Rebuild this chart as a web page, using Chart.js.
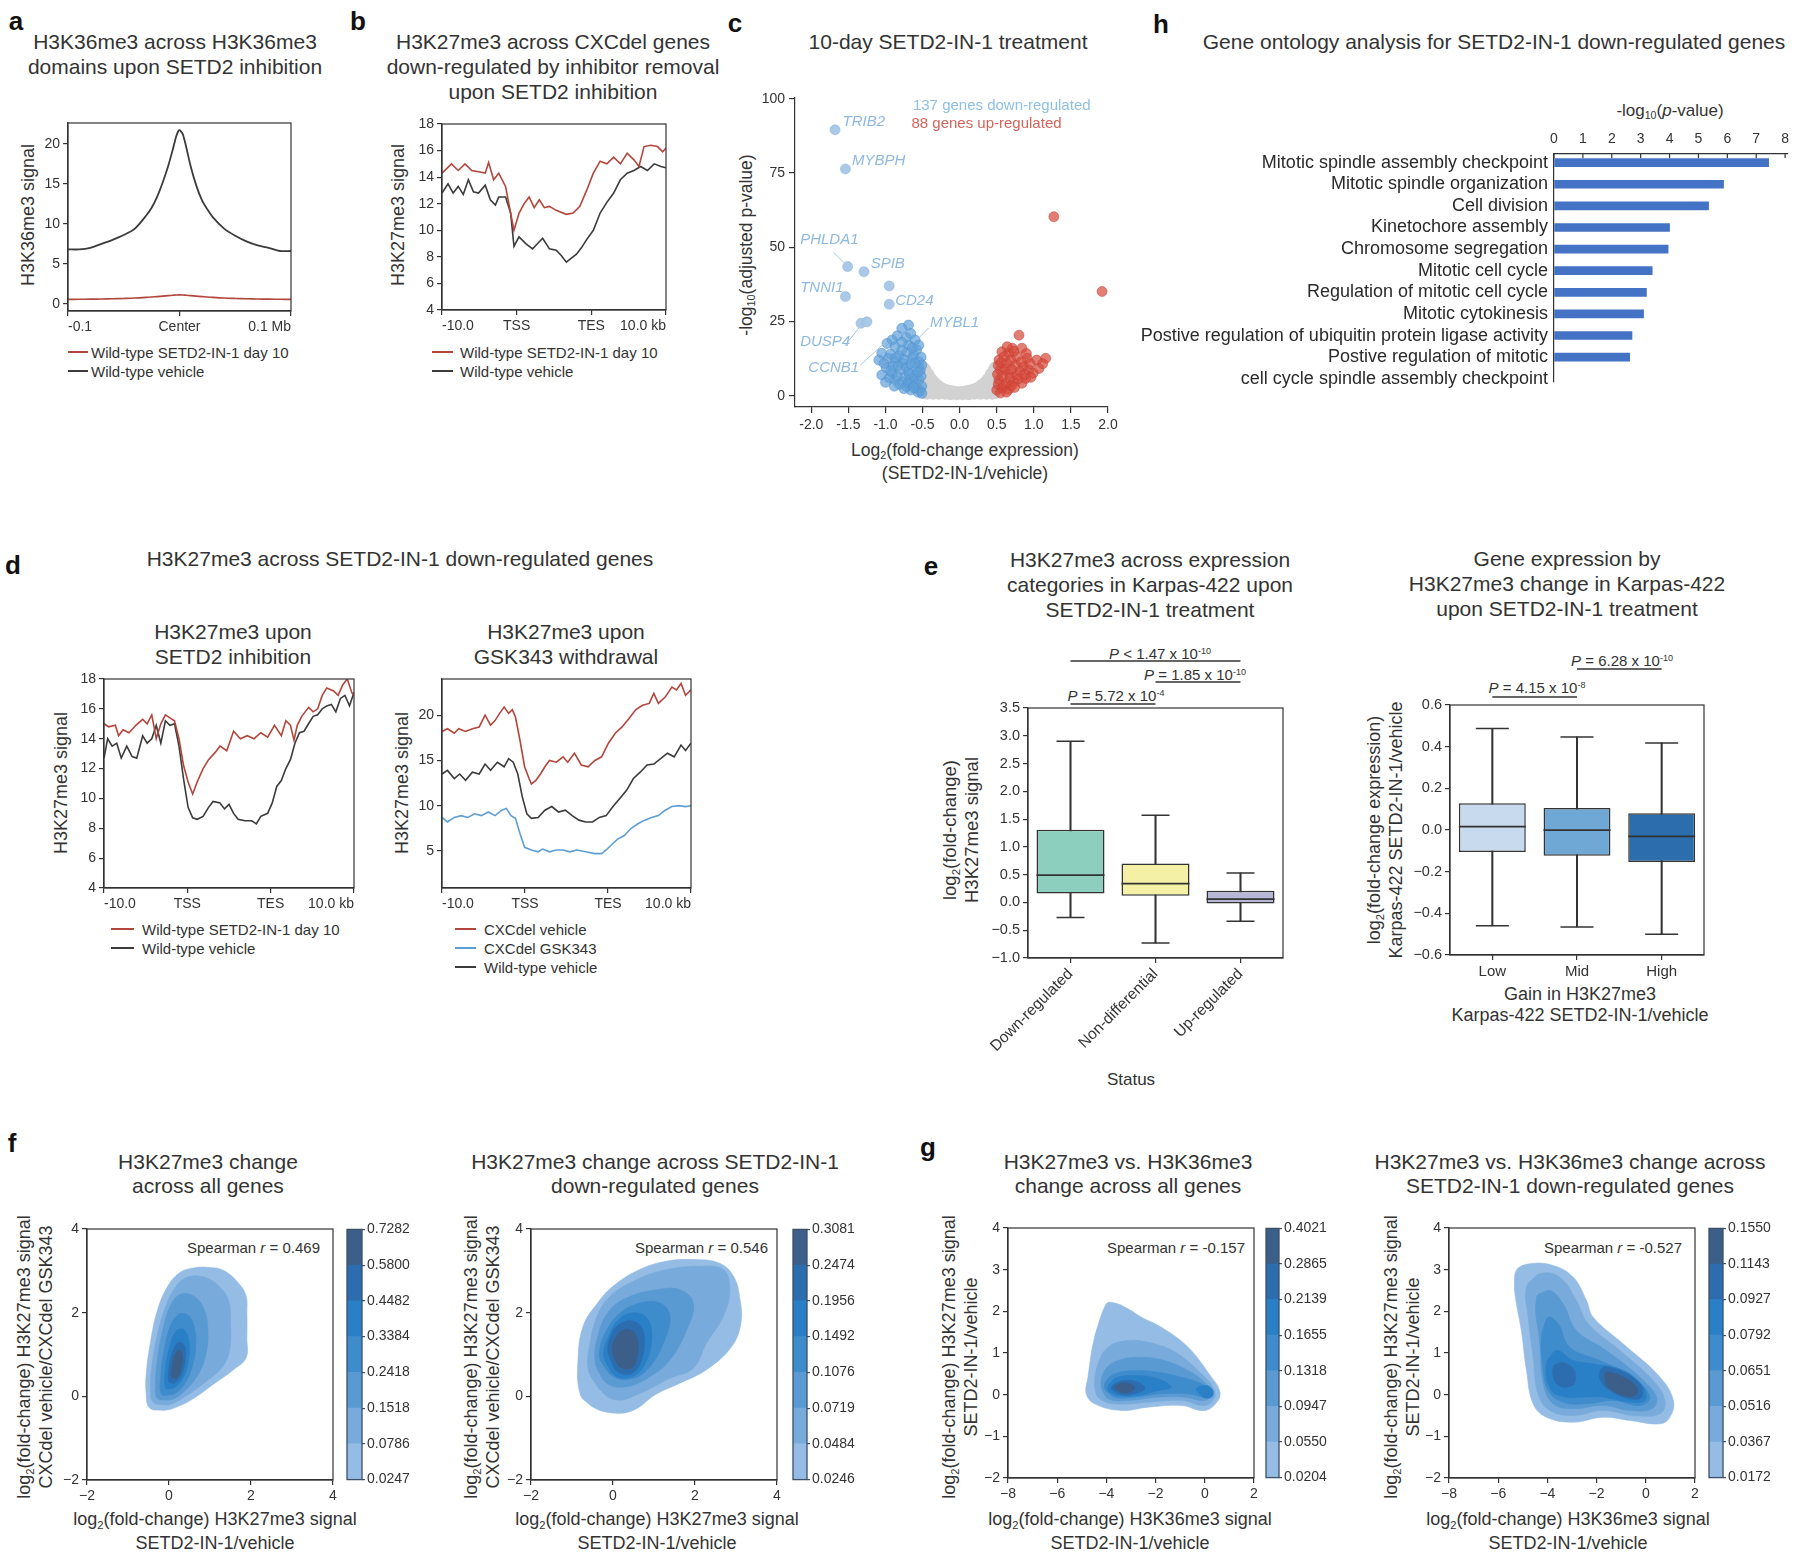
<!DOCTYPE html>
<html><head><meta charset="utf-8"><title>SETD2-IN-1 figure</title>
<script src="https://cdn.jsdelivr.net/npm/chart.js@4.4.1/dist/chart.umd.min.js"></script>
<style>
html,body{margin:0;padding:0;background:#fff}
body{position:relative;width:1800px;height:1559px;overflow:hidden;font-family:"Liberation Sans",Arial,Helvetica,sans-serif;color:#333}
.t{position:absolute;white-space:nowrap;line-height:1;text-align:center}
canvas{position:absolute}
sub{font-size:0.62em;vertical-align:0;position:relative;top:0.32em}
sup{font-size:0.6em;vertical-align:0;position:relative;top:-0.6em}
.lg{position:absolute;height:0;border-top:2px solid}
</style></head><body>
<script>
// ---------------- DATA ----------------
// panel a
const aX = [-100,-90,-80,-70,-60,-50,-40,-30,-25,-20,-15,-10,-6,-3,-1,0,1,3,6,10,15,20,25,30,40,50,60,70,80,90,100];
const aVehicle = [6.8,6.8,7.0,7.5,8.0,8.6,9.4,11.0,12.0,13.4,15.2,17.3,19.3,20.9,21.6,21.7,21.6,21.2,19.6,17.2,14.8,13.0,11.8,10.8,9.4,8.5,7.8,7.3,7.0,6.6,6.6];
const aSetd2 = [0.55,0.56,0.58,0.6,0.63,0.67,0.72,0.8,0.85,0.9,0.96,1.02,1.07,1.1,1.12,1.12,1.12,1.1,1.07,1.02,0.96,0.9,0.85,0.8,0.72,0.67,0.63,0.6,0.58,0.56,0.55];
const aTicks = [-100,0,100];
const aTickLabels = ['-0.1','Center','0.1 Mb'];
// metagene ticks (b, d)
const geneTicks = [0,1,2,3];
const geneTickLabels = ['-10.0','TSS','TES','10.0 kb'];
// panel b
const bSetd2 = [[0,14.3],[0.127,15.0],[0.217,14.5],[0.308,15.0],[0.398,14.5],[0.489,14.4],[0.579,14.3],[0.624,15.1],[0.692,13.8],[0.76,14.3],[0.851,13.3],[0.919,11.3],[0.964,10.0],[1.032,11.3],[1.1,12.0],[1.167,12.5],[1.235,11.7],[1.303,12.3],[1.371,11.7],[1.439,11.8],[1.529,11.5],[1.665,11.2],[1.756,11.3],[1.846,11.8],[1.937,13.0],[2.027,14.3],[2.118,15.2],[2.208,15.0],[2.299,15.5],[2.389,15.0],[2.48,15.8],[2.57,15.3],[2.638,14.8],[2.706,16.3],[2.796,16.4],[2.887,16.3],[2.955,15.9],[3.0,16.2]];
const bVehicle = [[0,12.8],[0.081,13.5],[0.149,12.8],[0.217,13.3],[0.285,12.7],[0.353,13.8],[0.421,12.9],[0.489,12.8],[0.579,13.4],[0.647,12.3],[0.715,11.9],[0.76,12.5],[0.851,12.5],[0.919,11.3],[0.964,8.8],[1.032,9.5],[1.122,9.0],[1.213,8.6],[1.281,9.0],[1.348,9.4],[1.439,8.6],[1.529,8.5],[1.597,8.1],[1.665,7.6],[1.733,7.9],[1.801,8.2],[1.869,8.7],[1.937,9.3],[2.027,10.0],[2.118,11.3],[2.208,12.1],[2.299,12.8],[2.389,13.8],[2.48,14.3],[2.57,14.5],[2.661,14.8],[2.751,14.5],[2.842,15.0],[2.932,14.8],[3.0,14.7]];
// panel d (left)
const dSetd2 = [[0,15.0],[0.055,14.8],[0.136,14.9],[0.175,14.2],[0.229,14.6],[0.3,14.4],[0.382,14.9],[0.464,15.3],[0.518,15.0],[0.573,15.6],[0.627,14.0],[0.682,15.0],[0.737,15.6],[0.791,15.4],[0.846,15.2],[0.9,14.0],[0.955,12.2],[1.009,11.1],[1.064,10.3],[1.118,11.1],[1.189,12.0],[1.255,12.6],[1.337,13.1],[1.391,13.5],[1.473,13.2],[1.555,14.5],[1.637,14.0],[1.718,14.2],[1.8,14.0],[1.882,14.4],[1.964,14.1],[2.046,14.9],[2.128,14.2],[2.182,15.2],[2.237,14.9],[2.28,13.9],[2.319,14.9],[2.373,15.5],[2.455,16.1],[2.51,15.8],[2.564,16.0],[2.619,16.9],[2.673,17.4],[2.755,17.2],[2.81,16.9],[2.864,17.6],[2.919,18.0],[2.973,17.1],[3.0,16.9]];
const dVehicle = [[0,12.7],[0.044,14.0],[0.098,13.5],[0.153,13.7],[0.207,12.7],[0.273,13.5],[0.338,12.8],[0.393,12.7],[0.464,14.2],[0.518,13.7],[0.573,14.0],[0.627,14.9],[0.682,13.7],[0.737,15.2],[0.791,14.9],[0.846,15.0],[0.9,13.5],[0.955,11.3],[1.009,9.4],[1.064,8.7],[1.118,8.6],[1.189,8.8],[1.255,9.4],[1.309,9.8],[1.391,9.7],[1.446,9.3],[1.5,9.6],[1.555,9.0],[1.609,8.6],[1.691,8.5],[1.773,8.5],[1.828,8.3],[1.882,8.8],[1.964,9.0],[2.019,9.7],[2.073,10.8],[2.128,11.2],[2.182,12.0],[2.237,12.6],[2.291,13.7],[2.346,14.4],[2.4,14.5],[2.455,15.0],[2.51,15.5],[2.564,15.6],[2.619,16.0],[2.673,16.2],[2.728,16.3],[2.782,15.8],[2.837,16.7],[2.891,16.9],[2.946,16.2],[3.0,17.1]];
// panel d (right)
const dCxcVehicle = [[0,18.2],[0.066,18.5],[0.148,18.0],[0.202,18.5],[0.284,18.2],[0.366,18.5],[0.448,18.7],[0.519,20.0],[0.585,18.9],[0.639,19.4],[0.694,20.2],[0.749,20.9],[0.803,20.2],[0.847,20.6],[0.885,19.8],[0.94,17.2],[0.995,14.3],[1.049,13.0],[1.077,12.4],[1.131,12.8],[1.186,13.5],[1.24,14.3],[1.295,15.0],[1.377,14.8],[1.459,15.4],[1.514,14.8],[1.596,15.8],[1.678,14.5],[1.76,14.3],[1.842,15.0],[1.923,15.4],[2.005,16.9],[2.087,18.0],[2.169,18.7],[2.251,19.6],[2.333,20.6],[2.415,21.1],[2.497,21.3],[2.552,22.4],[2.607,21.3],[2.689,22.0],[2.77,23.1],[2.825,22.8],[2.88,23.5],[2.934,22.2],[3.0,22.8]];
const dCxcGsk = [[0,8.7],[0.066,8.2],[0.148,8.7],[0.23,8.9],[0.311,8.7],[0.393,9.1],[0.475,8.9],[0.557,9.3],[0.639,8.9],[0.721,9.5],[0.776,9.7],[0.831,8.9],[0.885,8.6],[0.94,6.9],[0.995,5.4],[1.077,5.1],[1.158,4.9],[1.213,5.2],[1.295,4.9],[1.377,5.1],[1.459,5.1],[1.541,4.9],[1.623,5.1],[1.732,4.9],[1.842,4.7],[1.923,4.7],[1.978,5.1],[2.033,5.6],[2.115,6.3],[2.197,6.7],[2.279,7.5],[2.361,8.0],[2.443,8.4],[2.525,8.7],[2.607,8.9],[2.689,9.5],[2.77,9.9],[2.852,10.0],[2.934,9.9],[3.0,10.0]];
const dWtVehicle = [[0,13.5],[0.066,13.9],[0.148,13.0],[0.213,13.5],[0.284,12.8],[0.366,13.7],[0.448,13.5],[0.519,14.6],[0.585,13.9],[0.667,14.8],[0.749,14.3],[0.803,15.2],[0.858,14.8],[0.913,13.5],[0.967,11.0],[1.022,9.1],[1.077,8.6],[1.158,8.7],[1.24,9.5],[1.322,9.9],[1.404,9.3],[1.486,9.5],[1.568,8.9],[1.65,8.4],[1.732,8.2],[1.814,8.2],[1.896,8.7],[1.978,8.9],[2.06,9.9],[2.142,10.8],[2.224,11.7],[2.306,13.0],[2.388,13.7],[2.47,14.5],[2.552,14.6],[2.634,15.2],[2.716,15.8],[2.798,15.4],[2.88,16.7],[2.934,16.1],[3.0,16.9]];
// panel c (volcano)
const cXTicks = [-2,-1.5,-1,-0.5,0,0.5,1,1.5,2];
const cXTickLabels = ['-2.0','-1.5','-1.0','-0.5','0.0','0.5','1.0','1.5','2.0'];
const cYTicks = [0,25,50,75,100];
const cLabeled = [[-1.68,89.6],[-1.54,76.4],[-1.51,43.5],[-1.29,41.8],[-0.95,37.0],[-1.54,33.4],[-0.95,30.8],[-1.33,24.4],[-1.25,24.9]];
const cDown = [[-0.69,23.8],[-0.78,22.7],[-0.60,18.8],[-0.91,18.8],[-0.98,17.6],[-0.87,16.5],[-0.78,15.4],[-0.69,17.1],[-0.58,15.4],[-1.05,14.3],[-0.96,12.6],[-1.09,12.0],[-1.02,10.9],[-0.87,11.5],[-0.76,10.9],[-0.64,12.6],[-0.55,11.5],[-1.05,7.0],[-0.91,7.5],[-0.80,8.7],[-0.69,8.1],[-0.60,7.0],[-0.53,8.7],[-0.87,5.3],[-0.76,4.7],[-0.64,4.2],[-0.55,5.3],[-0.71,3.0],[-0.58,2.5],[-0.53,1.7],[-0.84,20.2],[-0.72,19.6],[-0.66,21.0],[-0.93,14.0],[-0.82,13.4],[-0.71,14.6],[-0.62,13.8],[-0.52,13.0],[-0.99,9.4],[-0.90,9.9],[-0.83,10.2],[-0.72,9.6],[-0.66,10.8],[-0.57,9.8],[-0.51,10.4],[-0.95,6.0],[-0.84,6.6],[-0.74,6.3],[-0.67,5.6],[-0.61,6.0],[-0.52,6.6],[-0.81,3.8],[-0.70,4.0],[-0.60,3.6],[-0.51,3.2],[-0.66,1.9],[-0.56,1.2],[-0.51,0.8],[-0.62,2.8],[-0.75,2.4],[-0.88,3.2],[-1.00,4.5],[-0.93,8.3],[-0.64,16.2],[-0.55,17.0],[-0.75,12.2],[-0.60,11.0],[-0.68,7.4],[-0.56,8.0],[-0.78,18.0],[-0.86,12.8]];
const cUp = [[0.80,20.4],[0.71,16.0],[0.84,16.0],[0.57,14.8],[0.66,14.3],[0.77,13.1],[0.91,12.6],[1.04,12.0],[1.16,12.6],[1.07,9.2],[0.53,12.0],[0.64,10.9],[0.75,10.3],[0.86,9.8],[0.93,8.7],[0.55,8.7],[0.66,7.5],[0.77,7.0],[0.89,5.8],[0.53,5.3],[0.62,4.2],[0.73,4.7],[0.57,2.5],[0.50,1.9],[0.66,2.1],[0.84,4.2],[0.60,13.2],[0.69,12.0],[0.52,10.2],[0.61,9.0],[0.70,8.8],[0.81,8.2],[0.58,6.6],[0.68,6.0],[0.79,5.6],[0.52,3.8],[0.60,3.2],[0.70,3.4],[0.55,0.9],[0.63,1.2],[0.74,2.8],[0.95,10.8],[1.12,10.8],[0.88,7.2],[0.99,7.6],[0.51,7.2],[0.56,11.2],[0.73,15.0],[0.64,16.5],[0.90,14.2],[0.83,11.4],[0.96,6.2]];
const cOutliersUp = [[1.27,60.3],[1.92,35.1]];
const cNs = [[-0.48,0.5],[-0.48,2.0],[-0.48,3.5],[-0.48,5.0],[-0.48,6.5],[-0.48,8.0],[-0.47,9.5],[-0.44,0.3],[-0.44,1.8],[-0.44,3.3],[-0.44,4.8],[-0.44,6.3],[-0.44,7.8],[-0.45,8.9],[-0.40,0.5],[-0.40,2.0],[-0.40,3.5],[-0.40,5.0],[-0.40,6.3],[-0.41,7.4],[-0.36,0.3],[-0.36,1.7],[-0.36,3.1],[-0.36,4.5],[-0.37,5.8],[-0.32,0.5],[-0.32,1.8],[-0.32,3.1],[-0.33,4.6],[-0.28,0.3],[-0.28,1.5],[-0.28,2.7],[-0.29,3.8],[-0.24,0.5],[-0.24,1.6],[-0.25,3.0],[-0.20,0.3],[-0.20,1.3],[-0.21,2.5],[-0.16,0.4],[-0.16,1.3],[-0.17,2.2],[-0.12,0.2],[-0.12,1.1],[-0.12,1.9],[-0.08,0.4],[-0.08,1.2],[-0.08,1.7],[-0.04,0.2],[-0.04,1.0],[-0.04,1.5],[0.00,0.4],[0.00,1.1],[0.00,1.5],[0.04,0.2],[0.04,1.0],[0.04,1.6],[0.08,0.4],[0.08,1.2],[0.08,1.8],[0.12,0.2],[0.12,1.1],[0.12,2.0],[0.16,0.4],[0.16,1.3],[0.17,2.3],[0.20,0.3],[0.20,1.3],[0.21,2.6],[0.24,0.5],[0.24,1.6],[0.25,3.1],[0.28,0.3],[0.28,1.5],[0.28,2.7],[0.29,3.9],[0.32,0.5],[0.32,1.8],[0.32,3.1],[0.33,4.7],[0.36,0.3],[0.36,1.7],[0.36,3.1],[0.36,4.5],[0.37,5.9],[0.40,0.5],[0.40,2.0],[0.40,3.5],[0.40,5.0],[0.40,6.4],[0.41,7.6],[0.44,0.3],[0.44,1.8],[0.44,3.3],[0.44,4.8],[0.44,6.3],[0.44,7.8],[0.45,9.0],[0.48,0.5],[0.48,2.0],[0.48,3.5],[0.48,5.0],[0.48,6.5],[0.48,8.0],[0.47,9.8]];
const cGeneLabels = [['TRIB2',-1.58,92.2],['MYBPH',-1.45,79.1],['PHLDA1',-2.15,52.5],['SPIB',-1.20,44.4],['TNNI1',-2.15,36.3],['CD24',-0.87,31.9],['MYBL1',-0.40,24.5],['DUSP4',-2.15,18.1],['CCNB1',-2.04,9.3]];
const cLeaders = [[-1.70,48.3,-1.55,44.6],[-1.55,16.8,-1.34,23.4],[-1.34,10.3,-0.98,18.5],[-0.42,22.8,-0.57,19.0]];
const cCounts = [['137 genes down-regulated',-0.63,97.6],['88 genes up-regulated',-0.65,91.6]];
// panel h
const hTerms = ['Mitotic spindle assembly checkpoint','Mitotic spindle organization','Cell division','Kinetochore assembly','Chromosome segregation','Mitotic cell cycle','Regulation of mitotic cell cycle','Mitotic cytokinesis','Postive regulation of ubiquitin protein ligase activity','Postive regulation of mitotic','cell cycle spindle assembly checkpoint'];
const hValues = [7.43,5.87,5.35,4.0,3.95,3.4,3.2,3.1,2.7,2.62];
const hTicks = [0,1,2,3,4,5,6,7,8];
// panel e (left)
const eCats = ['Down-regulated','Non-differential','Up-regulated'];
const eMin = [-0.27,-0.73,-0.34];
const eQ1 = [0.16,0.12,-0.02];
const eMed = [0.49,0.34,0.06];
const eQ3 = [1.31,0.70,0.21];
const eMax = [2.9,1.57,0.53];
const eTicks = [-1,-0.5,0,0.5,1,1.5,2,2.5,3,3.5];
const eTickLabels = ['\u22121.0','\u22120.5','0.0','0.5','1.0','1.5','2.0','2.5','3.0','3.5'];
// panel e (right)
const e2Cats = ['Low','Mid','High'];
const e2Min = [-0.46,-0.465,-0.5];
const e2Q1 = [-0.105,-0.123,-0.153];
const e2Med = [0.016,-0.001,-0.031];
const e2Q3 = [0.128,0.106,0.08];
const e2Max = [0.487,0.447,0.418];
const e2Ticks = [-0.6,-0.4,-0.2,0,0.2,0.4,0.6];
const e2TickLabels = ['\u22120.6','\u22120.4','\u22120.2','0.0','0.2','0.4','0.6'];
// panels f, g (density contours, outer -> inner level)
const fgTicks = [-2,0,2,4];
const fgTickLabels = ['\u22122','0','2','4'];
const gXTicks = [-8,-6,-4,-2,0,2];
const gXTickLabels = ['\u22128','\u22126','\u22124','\u22122','0','2'];
const gYTicks = [-2,-1,0,1,2,3,4];
const gYTickLabels = ['\u22122','\u22121','0','1','2','3','4'];
const fAllLevels = [
 [[[-0.47,-0.28],[-0.1,-0.33],[0.2,-0.25],[0.6,-0.05],[1.1,0.3],[1.55,0.62],[1.88,0.92],[1.9,1.4],[1.9,2.0],[1.88,2.4],[1.7,2.7],[1.35,3.0],[1.0,3.08],[0.6,3.07],[0.25,2.95],[-0.05,2.6],[-0.3,2.0],[-0.45,1.3],[-0.55,0.6],[-0.56,0.1]]],
 [[[-0.38,-0.15],[0.0,-0.2],[0.4,0.0],[0.9,0.35],[1.3,0.7],[1.48,1.1],[1.5,1.8],[1.45,2.3],[1.2,2.65],[0.85,2.85],[0.45,2.85],[0.15,2.6],[-0.1,2.1],[-0.3,1.4],[-0.42,0.7],[-0.45,0.2]]],
 [[[-0.28,-0.05],[0.05,-0.08],[0.35,0.1],[0.7,0.5],[0.9,1.0],[0.95,1.6],[0.85,2.1],[0.6,2.4],[0.3,2.45],[0.05,2.2],[-0.15,1.6],[-0.28,0.9],[-0.33,0.3]]],
 [[[-0.18,0.05],[0.1,0.05],[0.35,0.25],[0.55,0.65],[0.65,1.15],[0.62,1.65],[0.45,1.95],[0.22,1.95],[0.02,1.65],[-0.12,1.1],[-0.2,0.5]]],
 [[[-0.08,0.2],[0.12,0.2],[0.35,0.45],[0.48,0.9],[0.48,1.35],[0.35,1.6],[0.17,1.55],[0.02,1.2],[-0.08,0.7]]],
 [[[0.0,0.35],[0.15,0.32],[0.32,0.55],[0.4,0.9],[0.38,1.2],[0.25,1.3],[0.12,1.15],[0.02,0.8]]],
 [[[0.07,0.45],[0.2,0.45],[0.3,0.7],[0.32,1.0],[0.25,1.1],[0.15,1.0],[0.08,0.75]]]
];
const fDownLevels = [
 [[[-0.8,0.05],[-0.5,-0.25],[0.0,-0.4],[0.5,-0.33],[1.05,0.05],[1.6,0.3],[2.3,0.65],[2.9,1.2],[3.12,1.75],[3.1,2.3],[2.95,2.85],[2.6,3.18],[1.95,3.27],[1.3,3.23],[0.65,3.03],[0.0,2.63],[-0.4,2.2],[-0.72,1.7],[-0.85,0.95]]],
 [[[-0.6,0.63],[-0.31,0.15],[0.09,-0.09],[0.66,0.07],[1.39,0.43],[1.96,0.67],[2.28,1.27],[2.69,1.91],[2.85,2.55],[2.69,3.03],[2.12,3.11],[1.31,3.03],[0.58,2.79],[-0.07,2.39],[-0.39,1.91],[-0.56,1.27]]],
 [[[-0.43,0.79],[-0.15,0.31],[0.34,0.23],[0.9,0.47],[1.39,0.87],[1.8,1.59],[1.96,2.23],[1.63,2.55],[1.07,2.55],[0.42,2.39],[-0.07,2.07],[-0.35,1.51]]],
 [[[-0.31,0.87],[0.01,0.47],[0.5,0.43],[0.9,0.71],[1.23,1.27],[1.39,1.91],[1.15,2.23],[0.66,2.23],[0.17,1.99],[-0.15,1.59],[-0.31,1.19]]],
 [[[-0.22,0.95],[0.05,0.5],[0.5,0.48],[0.82,0.85],[0.95,1.45],[0.82,1.88],[0.5,2.0],[0.15,1.85],[-0.1,1.45]]],
 [[[-0.12,1.05],[0.1,0.6],[0.48,0.56],[0.72,0.95],[0.74,1.55],[0.5,1.8],[0.15,1.72],[-0.05,1.45]]],
 [[[-0.02,1.1],[0.15,0.72],[0.45,0.68],[0.6,1.0],[0.58,1.42],[0.38,1.6],[0.13,1.5]]]
];
const gAllLevels = [
 [[[-4.0,2.18],[-4.48,1.38],[-4.75,0.42],[-4.82,0.02],[-4.48,-0.22],[-3.39,-0.38],[-2.31,-0.30],[-0.95,-0.26],[0.0,-0.38],[0.54,-0.14],[0.60,0.10],[0.27,0.42],[-0.68,1.14],[-1.77,1.62],[-2.58,1.86],[-3.12,2.06],[-3.66,2.2]]],
 [[[-4.48,0.26],[-4.34,-0.06],[-3.66,-0.22],[-2.31,-0.18],[-0.95,-0.14],[0.0,-0.26],[0.40,-0.06],[0.33,0.18],[-0.14,0.50],[-1.09,0.98],[-2.04,1.22],[-3.12,1.30],[-3.93,1.14],[-4.34,0.74]]],
 [[[-4.21,0.18],[-3.93,-0.10],[-3.12,-0.14],[-1.90,-0.06],[-0.82,-0.06],[0.0,-0.14],[0.27,0.02],[0.06,0.26],[-0.68,0.58],[-1.63,0.82],[-2.58,0.90],[-3.53,0.82],[-4.07,0.58]]],
 [[[-4.07,0.14],[-3.66,-0.06],[-2.85,-0.06],[-1.77,0.02],[-0.68,0.02],[0.06,-0.06],[0.20,0.06],[-0.14,0.26],[-0.95,0.42],[-1.90,0.54],[-2.85,0.58],[-3.66,0.50],[-4.0,0.34]]],
 [[[-3.93,0.10],[-3.53,-0.02],[-2.72,-0.02],[-1.90,0.10],[-1.36,0.18],[-1.90,0.38],[-2.72,0.46],[-3.53,0.42],[-3.87,0.26]],[[-0.34,0.14],[-0.07,-0.06],[0.27,-0.06],[0.33,0.10],[0.06,0.22]]],
 [[[-3.80,0.14],[-3.39,0.0],[-2.85,0.02],[-2.44,0.14],[-2.72,0.30],[-3.26,0.34],[-3.66,0.26]]],
 [[[-3.66,0.17],[-3.39,0.06],[-3.05,0.06],[-2.85,0.17],[-3.05,0.26],[-3.39,0.28]]]
];
const gDownLevels = [
 [[[-5.33,2.5],[-5.26,2.98],[-4.72,3.14],[-3.77,3.1],[-2.95,2.82],[-2.41,2.26],[-2.14,1.86],[-0.92,1.22],[0.58,0.42],[1.12,-0.14],[0.98,-0.54],[0.58,-0.7],[-0.65,-0.62],[-1.73,-0.54],[-2.95,-0.66],[-4.04,-0.54],[-4.58,-0.22],[-4.85,0.58],[-5.06,1.54]]],
 [[[-4.85,2.58],[-4.31,2.9],[-3.5,2.82],[-2.82,2.26],[-2.34,1.7],[-1.05,1.06],[0.3,0.34],[0.78,-0.14],[0.58,-0.46],[-0.51,-0.5],[-1.73,-0.38],[-2.95,-0.5],[-3.9,-0.38],[-4.38,0.02],[-4.58,0.9],[-4.78,1.86]]],
 [[[-4.44,2.34],[-3.9,2.5],[-3.36,2.18],[-2.82,1.54],[-1.6,1.06],[-0.24,0.42],[0.44,-0.06],[0.24,-0.34],[-0.65,-0.38],[-1.73,-0.26],[-2.95,-0.34],[-3.77,-0.22],[-4.17,0.26],[-4.31,1.22]]],
 [[[-4.24,1.38],[-3.97,1.86],[-3.56,1.7],[-3.09,1.14],[-1.87,0.82],[-0.51,0.42],[0.17,-0.06],[-0.24,-0.26],[-1.32,-0.14],[-2.41,-0.22],[-3.36,-0.18],[-3.97,0.1],[-4.2,0.74]]],
 [[[-4.04,0.74],[-3.63,1.06],[-2.95,0.82],[-2.14,0.74],[-0.92,0.58],[-0.1,0.18],[-0.04,-0.14],[-0.65,-0.18],[-1.73,-0.06],[-2.55,-0.06],[-3.22,-0.06],[-3.83,0.1]]],
 [[[-3.77,0.66],[-3.43,0.78],[-2.95,0.62],[-2.88,0.3],[-3.22,0.18],[-3.63,0.26]],[[-1.73,0.66],[-1.05,0.58],[-0.24,0.26],[-0.17,-0.06],[-0.65,-0.1],[-1.46,0.1],[-1.87,0.38]]],
 [[[-1.6,0.54],[-1.05,0.46],[-0.37,0.18],[-0.44,-0.02],[-0.92,-0.02],[-1.53,0.18],[-1.66,0.38]]]
];
const cbFAll = ['0.7282','0.5800','0.4482','0.3384','0.2418','0.1518','0.0786','0.0247'];
const cbFDown = ['0.3081','0.2474','0.1956','0.1492','0.1076','0.0719','0.0484','0.0246'];
const cbGAll = ['0.4021','0.2865','0.2139','0.1655','0.1318','0.0947','0.0550','0.0204'];
const cbGDown = ['0.1550','0.1143','0.0927','0.0792','0.0651','0.0516','0.0367','0.0172'];

// ---------------- STYLE ----------------
const RED = '#b3463c', GRAY = '#3b3b3b', BLUEL = '#5d9fd3', AX = '#333';
const DENS = ['#94bce4','#78abdc','#5a9ad3','#3f8ccd','#2a80c6','#2c6db0','#3b5f88'];
Chart.defaults.font.family = "'Liberation Sans', Arial, Helvetica, sans-serif";
Chart.defaults.font.size = 14;
Chart.defaults.color = '#333';
Chart.defaults.plugins.legend.display = false;
Chart.defaults.plugins.tooltip.enabled = false;
Chart.defaults.animation = false;

function T(x, y, html, size, o = {}) {
  const d = document.createElement('div');
  d.className = 't';
  d.innerHTML = html;
  d.style.left = x + 'px';
  d.style.top = y + 'px';
  d.style.fontSize = size + 'px';
  if (o.lh) d.style.lineHeight = o.lh + 'px';
  if (o.b) d.style.fontWeight = 'bold';
  if (o.color) d.style.color = o.color;
  const tx = o.align === 'l' ? '0' : o.align === 'r' ? '-100%' : '-50%';
  d.style.transform = 'translate(' + tx + ',-50%)' + (o.rot ? ' rotate(' + o.rot + 'deg)' : '');
  document.body.appendChild(d);
}
function legend(lx, len, tx, y0, items) {
  items.forEach(([c, txt], i) => {
    const y = y0 + i * 19;
    const l = document.createElement('div');
    l.className = 'lg';
    l.style.left = lx + 'px'; l.style.top = (y - 1) + 'px'; l.style.width = len + 'px'; l.style.borderTopColor = c;
    document.body.appendChild(l);
    T(tx, y, txt, 15, {align: 'l'});
  });
}
function mk(rect, m, config) {
  const c = document.createElement('canvas');
  const W = rect.w + m.l + m.r, H = rect.h + m.t + m.b;
  c.width = W; c.height = H;
  c.style.left = (rect.x - m.l) + 'px'; c.style.top = (rect.y - m.t) + 'px';
  c.style.width = W + 'px'; c.style.height = H + 'px';
  document.body.appendChild(c);
  const o = config.options = config.options || {};
  o.responsive = false; o.maintainAspectRatio = false; o.animation = false; o.devicePixelRatio = 1;
  const has = {left: false, right: false, top: false, bottom: false};
  for (const [id, s] of Object.entries(o.scales || {})) {
    if (s.display === false) continue;
    const pos = s.position || (id[0] === 'x' ? 'bottom' : 'left');
    has[pos] = true;
    const size = m[pos[0]];
    s.afterFit = sc => { if (pos === 'left' || pos === 'right') sc.width = size; else sc.height = size; };
  }
  o.layout = {autoPadding: false, padding: {left: has.left ? 0 : m.l, right: has.right ? 0 : m.r, top: has.top ? 0 : m.t, bottom: has.bottom ? 0 : m.b}};
  return new Chart(c, config);
}
function axis(o) {
  const s = {type: o.type || 'linear', display: true};
  if (o.pos) s.position = o.pos;
  if (s.type === 'linear') {
    s.min = o.min; s.max = o.max; s.offset = false;
    s.afterBuildTicks = ax => { ax.ticks = o.ticks.map(v => ({value: v})); };
  }
  if (o.reverse) s.reverse = true;
  s.ticks = {autoSkip: false, maxRotation: o.rot || 0, minRotation: o.rot || 0, padding: (o.pad == null ? 3 : o.pad), font: {size: o.size || 14}, color: o.color || '#333'};
  if (o.labels) s.ticks.callback = (v, i) => o.labels[i];
  if (o.align) s.ticks.align = o.align;
  s.grid = {display: true, drawOnChartArea: false, drawTicks: o.tl !== 0, tickLength: (o.tl == null ? 5 : o.tl), color: AX, lineWidth: 1.2, offset: false};
  s.border = {display: o.border !== false, color: AX, width: 1.2};
  return s;
}
function frame(color, width) {
  return {id: 'frame', afterDatasetsDraw(chart) {
    const a = chart.chartArea, ctx = chart.ctx;
    ctx.save(); ctx.strokeStyle = color; ctx.lineWidth = width || 1.2;
    ctx.strokeRect(a.left, a.top, a.right - a.left, a.bottom - a.top);
    ctx.restore();
  }};
}
function sig(lines) {
  return {id: 'sig', afterDraw(chart) {
    const x = chart.scales.x, top = chart.chartArea.top, ctx = chart.ctx;
    ctx.save(); ctx.strokeStyle = '#333'; ctx.lineWidth = 1.3;
    lines.forEach(([a, b, dy]) => { ctx.beginPath(); ctx.moveTo(x.getPixelForValue(a), top + dy); ctx.lineTo(x.getPixelForValue(b), top + dy); ctx.stroke(); });
    ctx.restore();
  }};
}
const pts = arr => arr.map(([x, y]) => ({x, y}));
function lineDs(arr, color, w) { return {data: pts(arr), borderColor: color, borderWidth: w || 1.6, pointRadius: 0, tension: 0, fill: false}; }

// ---------------- PANEL LETTERS & TITLES ----------------
[['a',16,21],['b',358,21],['c',735,23],['h',1161,24],['d',13,565],['e',931,566],['f',12,1143],['g',928,1147]].forEach(([t,x,y]) => T(x, y, t, 26, {b: 1, color: '#111'}));
T(175, 54, 'H3K36me3 across H3K36me3<br>domains upon SETD2 inhibition', 21, {lh: 24.5});
T(553, 66, 'H3K27me3 across CXCdel genes<br>down-regulated by inhibitor removal<br>upon SETD2 inhibition', 21, {lh: 25});
T(948, 41, '10-day SETD2-IN-1 treatment', 21);
T(1494, 41, 'Gene ontology analysis for SETD2-IN-1 down-regulated genes', 21);
T(400, 558, 'H3K27me3 across SETD2-IN-1 down-regulated genes', 21);
T(233, 644, 'H3K27me3 upon<br>SETD2 inhibition', 21, {lh: 25});
T(566, 644, 'H3K27me3 upon<br>GSK343 withdrawal', 21, {lh: 25});
T(1150, 584, 'H3K27me3 across expression<br>categories in Karpas-422 upon<br>SETD2-IN-1 treatment', 21, {lh: 25});
T(1567, 583, 'Gene expression by<br>H3K27me3 change in Karpas-422<br>upon SETD2-IN-1 treatment', 21, {lh: 25});
T(208, 1174, 'H3K27me3 change<br>across all genes', 21, {lh: 24});
T(655, 1174, 'H3K27me3 change across SETD2-IN-1<br>down-regulated genes', 21, {lh: 24});
T(1128, 1174, 'H3K27me3 vs. H3K36me3<br>change across all genes', 21, {lh: 24});
T(1570, 1174, 'H3K27me3 vs. H3K36me3 change across<br>SETD2-IN-1 down-regulated genes', 21, {lh: 24});

// ---------------- AXIS TITLES ----------------
T(28, 215, 'H3K36me3 signal', 18, {rot: -90});
T(398, 215, 'H3K27me3 signal', 18, {rot: -90});
T(747, 245, '-log<sub>10</sub>(adjusted p-value)', 17.5, {rot: -90});
T(965, 462, 'Log<sub>2</sub>(fold-change expression)<br>(SETD2-IN-1/vehicle)', 17.5, {lh: 21});
T(1670, 110, '-log<sub>10</sub>(<i>p</i>-value)', 17);
T(61, 783, 'H3K27me3 signal', 18, {rot: -90});
T(402, 783, 'H3K27me3 signal', 18, {rot: -90});
T(961, 830, 'log<sub>2</sub>(fold-change)<br>H3K27me3 signal', 18.5, {rot: -90, lh: 20});
T(1131, 1079, 'Status', 17);
T(1385, 830, 'log<sub>2</sub>(fold-change expression)<br>Karpas-422 SETD2-IN-1/vehicle', 18, {rot: -90, lh: 20});
T(1580, 1005, 'Gain in H3K27me3<br>Karpas-422 SETD2-IN-1/vehicle', 18, {lh: 21});
T(35, 1357, 'log<sub>2</sub>(fold-change) H3K27me3 signal<br>CXCdel vehicle/CXCdel GSK343', 18, {rot: -90, lh: 20});
T(482, 1357, 'log<sub>2</sub>(fold-change) H3K27me3 signal<br>CXCdel vehicle/CXCdel GSK343', 18, {rot: -90, lh: 20});
T(960, 1357, 'log<sub>2</sub>(fold-change) H3K27me3 signal<br>SETD2-IN-1/vehicle', 18, {rot: -90, lh: 20});
T(1402, 1357, 'log<sub>2</sub>(fold-change) H3K27me3 signal<br>SETD2-IN-1/vehicle', 18, {rot: -90, lh: 20});
T(215, 1531, 'log<sub>2</sub>(fold-change) H3K27me3 signal<br>SETD2-IN-1/vehicle', 18, {lh: 22});
T(657, 1531, 'log<sub>2</sub>(fold-change) H3K27me3 signal<br>SETD2-IN-1/vehicle', 18, {lh: 22});
T(1130, 1531, 'log<sub>2</sub>(fold-change) H3K36me3 signal<br>SETD2-IN-1/vehicle', 18, {lh: 22});
T(1568, 1531, 'log<sub>2</sub>(fold-change) H3K36me3 signal<br>SETD2-IN-1/vehicle', 18, {lh: 22});
// spearman
T(320, 1247, 'Spearman <i>r</i> = 0.469', 15, {align: 'r'});
T(768, 1247, 'Spearman <i>r</i> = 0.546', 15, {align: 'r'});
T(1245, 1247, 'Spearman <i>r</i> = -0.157', 15, {align: 'r'});
T(1682, 1247, 'Spearman <i>r</i> = -0.527', 15, {align: 'r'});
// P values
T(1160, 653, '<i>P</i> &lt; 1.47 x 10<sup>-10</sup>', 15);
T(1195, 674, '<i>P</i> = 1.85 x 10<sup>-10</sup>', 15);
T(1116, 695, '<i>P</i> = 5.72 x 10<sup>-4</sup>', 15);
T(1622, 660, '<i>P</i> = 6.28 x 10<sup>-10</sup>', 15);
T(1537, 687, '<i>P</i> = 4.15 x 10<sup>-8</sup>', 15);
// legends
legend(68, 20, 91, 352, [[RED, 'Wild-type SETD2-IN-1 day 10'], [GRAY, 'Wild-type vehicle']]);
legend(432, 21, 460, 352, [[RED, 'Wild-type SETD2-IN-1 day 10'], [GRAY, 'Wild-type vehicle']]);
legend(111, 23, 142, 929, [[RED, 'Wild-type SETD2-IN-1 day 10'], [GRAY, 'Wild-type vehicle']]);
legend(455, 21, 484, 929, [[RED, 'CXCdel vehicle'], [BLUEL, 'CXCdel GSK343'], [GRAY, 'Wild-type vehicle']]);

// ---------------- CHARTS ----------------
// a
mk({x: 68, y: 123, w: 223, h: 188}, {l: 45, t: 12, r: 40, b: 28}, {
  type: 'line',
  data: {datasets: [
    {data: aX.map((x, i) => ({x, y: aSetd2[i]})), borderColor: RED, borderWidth: 1.6, pointRadius: 0, tension: 0.3},
    {data: aX.map((x, i) => ({x, y: aVehicle[i]})), borderColor: GRAY, borderWidth: 1.8, pointRadius: 0, tension: 0.3}]},
  options: {scales: {
    x: axis({min: -100, max: 100, ticks: aTicks, labels: aTickLabels, align: 'inner'}),
    y: axis({min: -0.9, max: 22.6, ticks: [0, 5, 10, 15, 20]})}},
  plugins: [frame(AX)]
});
// b
mk({x: 442, y: 124, w: 224, h: 186}, {l: 45, t: 12, r: 40, b: 28}, {
  type: 'line',
  data: {datasets: [lineDs(bSetd2, RED), lineDs(bVehicle, GRAY)]},
  options: {scales: {
    x: axis({min: 0, max: 3, ticks: geneTicks, labels: geneTickLabels, align: 'inner'}),
    y: axis({min: 4, max: 18, ticks: [4, 6, 8, 10, 12, 14, 16, 18]})}},
  plugins: [frame(AX)]
});
// d left
mk({x: 104, y: 679, w: 250, h: 209}, {l: 45, t: 12, r: 40, b: 28}, {
  type: 'line',
  data: {datasets: [lineDs(dSetd2, RED), lineDs(dVehicle, GRAY)]},
  options: {scales: {
    x: axis({min: 0, max: 3, ticks: geneTicks, labels: geneTickLabels, align: 'inner'}),
    y: axis({min: 4, max: 18, ticks: [4, 6, 8, 10, 12, 14, 16, 18]})}},
  plugins: [frame(AX)]
});
// d right
mk({x: 442, y: 679, w: 249, h: 209}, {l: 45, t: 12, r: 40, b: 28}, {
  type: 'line',
  data: {datasets: [lineDs(dCxcVehicle, RED), lineDs(dCxcGsk, BLUEL), lineDs(dWtVehicle, GRAY)]},
  options: {scales: {
    x: axis({min: 0, max: 3, ticks: geneTicks, labels: geneTickLabels, align: 'inner'}),
    y: axis({min: 0.9, max: 24, ticks: [5, 10, 15, 20]})}},
  plugins: [frame(AX)]
});
// c volcano
mk({x: 795, y: 98, w: 313, h: 309}, {l: 50, t: 30, r: 30, b: 28}, {
  type: 'scatter',
  data: {datasets: [
    {data: pts(cNs), backgroundColor: '#d2d2d2', borderWidth: 0, pointRadius: 5, order: 5},
    {data: pts(cDown), backgroundColor: 'rgba(96,160,216,0.7)', borderColor: 'rgba(80,145,205,0.85)', borderWidth: 0.6, pointRadius: 5, order: 4},
    {data: pts(cUp.concat(cOutliersUp)), backgroundColor: 'rgba(214,72,58,0.7)', borderColor: 'rgba(195,64,52,0.85)', borderWidth: 0.6, pointRadius: 5, order: 3},
    {data: pts(cLabeled), backgroundColor: 'rgba(166,198,230,0.95)', borderColor: 'rgba(140,180,220,0.95)', borderWidth: 0.6, pointRadius: 5, order: 2}]},
  options: {scales: {
    x: axis({min: -2.22, max: 2.0, ticks: cXTicks, labels: cXTickLabels, tl: 6, pad: 4}),
    y: axis({min: -3.8, max: 100.3, ticks: cYTicks, tl: 6, pad: 4})}},
  plugins: [{id: 'ann', afterDatasetsDraw(chart) {
    const ctx = chart.ctx, xs = chart.scales.x, ys = chart.scales.y;
    ctx.save();
    ctx.strokeStyle = '#a9c6e2'; ctx.lineWidth = 1;
    cLeaders.forEach(l => { ctx.beginPath(); ctx.moveTo(xs.getPixelForValue(l[0]), ys.getPixelForValue(l[1])); ctx.lineTo(xs.getPixelForValue(l[2]), ys.getPixelForValue(l[3])); ctx.stroke(); });
    ctx.textAlign = 'left'; ctx.textBaseline = 'middle';
    ctx.font = "italic 15px 'Liberation Sans', Arial, sans-serif"; ctx.fillStyle = '#8db9e0';
    cGeneLabels.forEach(([t, x, y]) => ctx.fillText(t, xs.getPixelForValue(x), ys.getPixelForValue(y)));
    ctx.font = "15px 'Liberation Sans', Arial, sans-serif";
    cCounts.forEach(([t, x, y], i) => { ctx.fillStyle = i === 0 ? '#8ec0e6' : '#d6645a'; ctx.fillText(t, xs.getPixelForValue(x), ys.getPixelForValue(y)); });
    ctx.restore();
  }}]
});
// h bars (tick marks point down into the plot, as in the original)
mk({x: 1554, y: 154, w: 234, h: 228}, {l: 430, t: 24, r: 12, b: 24}, {
  type: 'bar',
  data: {datasets: [{data: hValues.map((v, i) => ({x: v, y: i})), backgroundColor: '#4472c4', barThickness: 8}]},
  options: {indexAxis: 'y', scales: {
    x: axis({min: 0, max: 8.1, ticks: hTicks, pos: 'top', tl: 0, pad: 6, size: 14}),
    y: axis({min: -0.4, max: 10.15, ticks: hTerms.map((_, i) => i), labels: hTerms, reverse: true, tl: 0, pad: 6, size: 18, color: '#2a2a2a'})}},
  plugins: [{id: 'downTicks', afterDraw(chart) {
    const x = chart.scales.x, top = chart.chartArea.top, ctx = chart.ctx;
    ctx.save(); ctx.strokeStyle = AX; ctx.lineWidth = 1.2;
    hTicks.forEach(v => { const px = x.getPixelForValue(v); ctx.beginPath(); ctx.moveTo(px, top); ctx.lineTo(px, top + 4); ctx.stroke(); });
    ctx.restore();
  }}]
});
// e boxplots
function boxSets(mins, q1, med, q3, maxs, colors, pct, medR, capR) {
  const idx = mins.map((_, i) => i);
  return [
    {data: idx.map(i => [mins[i], maxs[i]]), backgroundColor: '#333', barThickness: 1.4, grouped: false, order: 3},
    {data: idx.map(i => [q1[i], q3[i]]), backgroundColor: colors, borderColor: '#333', borderWidth: 1.5, borderSkipped: false, barPercentage: pct, categoryPercentage: 1, grouped: false, order: 2},
    {type: 'line', data: med, showLine: false, pointStyle: 'line', pointRadius: medR, pointBorderWidth: 1.8, pointBorderColor: '#333', order: 1},
    {type: 'line', data: mins, showLine: false, pointStyle: 'line', pointRadius: capR, pointBorderWidth: 1.5, pointBorderColor: '#333', order: 1},
    {type: 'line', data: maxs, showLine: false, pointStyle: 'line', pointRadius: capR, pointBorderWidth: 1.5, pointBorderColor: '#333', order: 1}];
}
mk({x: 1028, y: 708, w: 255, h: 250}, {l: 110, t: 60, r: 20, b: 110}, {
  type: 'bar',
  data: {labels: eCats, datasets: boxSets(eMin, eQ1, eMed, eQ3, eMax, ['#8dcfbe', '#f4f0a6', '#b9b7d6'], 0.8, 34, 14)},
  options: {scales: {
    x: axis({type: 'category', rot: 45, size: 15.5, tl: 5, pad: 2}),
    y: axis({min: -1, max: 3.5, ticks: eTicks, labels: eTickLabels, size: 14.5})}},
  plugins: [frame(AX), sig([[0, 2, -47], [1, 2, -26], [0, 1, -4]])]
});
mk({x: 1450, y: 705, w: 254, h: 250}, {l: 75, t: 50, r: 20, b: 30}, {
  type: 'bar',
  data: {labels: e2Cats, datasets: boxSets(e2Min, e2Q1, e2Med, e2Q3, e2Max, ['#c8dbee', '#70a8d5', '#2c6dad'], 0.79, 33.5, 16.5)},
  options: {scales: {
    x: axis({type: 'category', size: 15, tl: 5, pad: 3}),
    y: axis({min: -0.6, max: 0.6, ticks: e2Ticks, labels: e2TickLabels, size: 14.5})}},
  plugins: [frame(AX), sig([[1, 2, -36], [0, 1, -8]])]
});
// f, g density contours
function contourSets(levels) {
  const ds = [];
  levels.forEach((polys, k) => polys.forEach(p => ds.push({
    data: pts(p.concat([p[0], p[1]])), showLine: true, fill: 'shape', backgroundColor: DENS[k], borderColor: DENS[k],
    borderWidth: 0.6, pointRadius: 0, tension: 0.4, order: 100 - k})));
  return ds;
}
function density(rect, levels, xr, xt, xl, yr, yt, yl) {
  mk(rect, {l: 50, t: 12, r: 14, b: 30}, {
    type: 'scatter',
    data: {datasets: contourSets(levels)},
    options: {scales: {
      x: axis({min: xr[0], max: xr[1], ticks: xt, labels: xl}),
      y: axis({min: yr[0], max: yr[1], ticks: yt, labels: yl})}},
    plugins: [frame(AX)]
  });
}
function colorbar(rect, labels) {
  mk(rect, {l: 2, t: 10, r: 60, b: 10}, {
    type: 'bar',
    data: {labels: [''], datasets: DENS.map(c => ({data: [1], backgroundColor: c, borderWidth: 0, barPercentage: 1, categoryPercentage: 1}))},
    options: {scales: {
      x: {display: false, stacked: true},
      y: {type: 'linear', position: 'right', stacked: true, min: 0, max: 7,
        afterBuildTicks: ax => { ax.ticks = [0, 1, 2, 3, 4, 5, 6, 7].map(v => ({value: v})); },
        ticks: {callback: v => labels[7 - v], font: {size: 14}, padding: 2, color: '#333'},
        grid: {drawOnChartArea: false, tickLength: 3, color: '#3d4f66', lineWidth: 1.2},
        border: {display: false}}}},
    plugins: [frame('#3d4f66', 1.3)]
  });
}
density({x: 87, y: 1229, w: 246, h: 251}, fAllLevels, [-2, 4], fgTicks, fgTickLabels, [-2, 4], fgTicks, fgTickLabels);
colorbar({x: 347, y: 1229, w: 15, h: 251}, cbFAll);
density({x: 531, y: 1229, w: 246, h: 251}, fDownLevels, [-2, 4], fgTicks, fgTickLabels, [-2, 4], fgTicks, fgTickLabels);
colorbar({x: 793, y: 1229, w: 14, h: 251}, cbFDown);
density({x: 1008, y: 1228, w: 246, h: 250}, gAllLevels, [-8, 2], gXTicks, gXTickLabels, [-2, 4], gYTicks, gYTickLabels);
colorbar({x: 1266, y: 1228, w: 13, h: 250}, cbGAll);
density({x: 1449, y: 1228, w: 246, h: 250}, gDownLevels, [-8, 2], gXTicks, gXTickLabels, [-2, 4], gYTicks, gYTickLabels);
colorbar({x: 1709, y: 1228, w: 14, h: 250}, cbGDown);
</script>
</body></html>
